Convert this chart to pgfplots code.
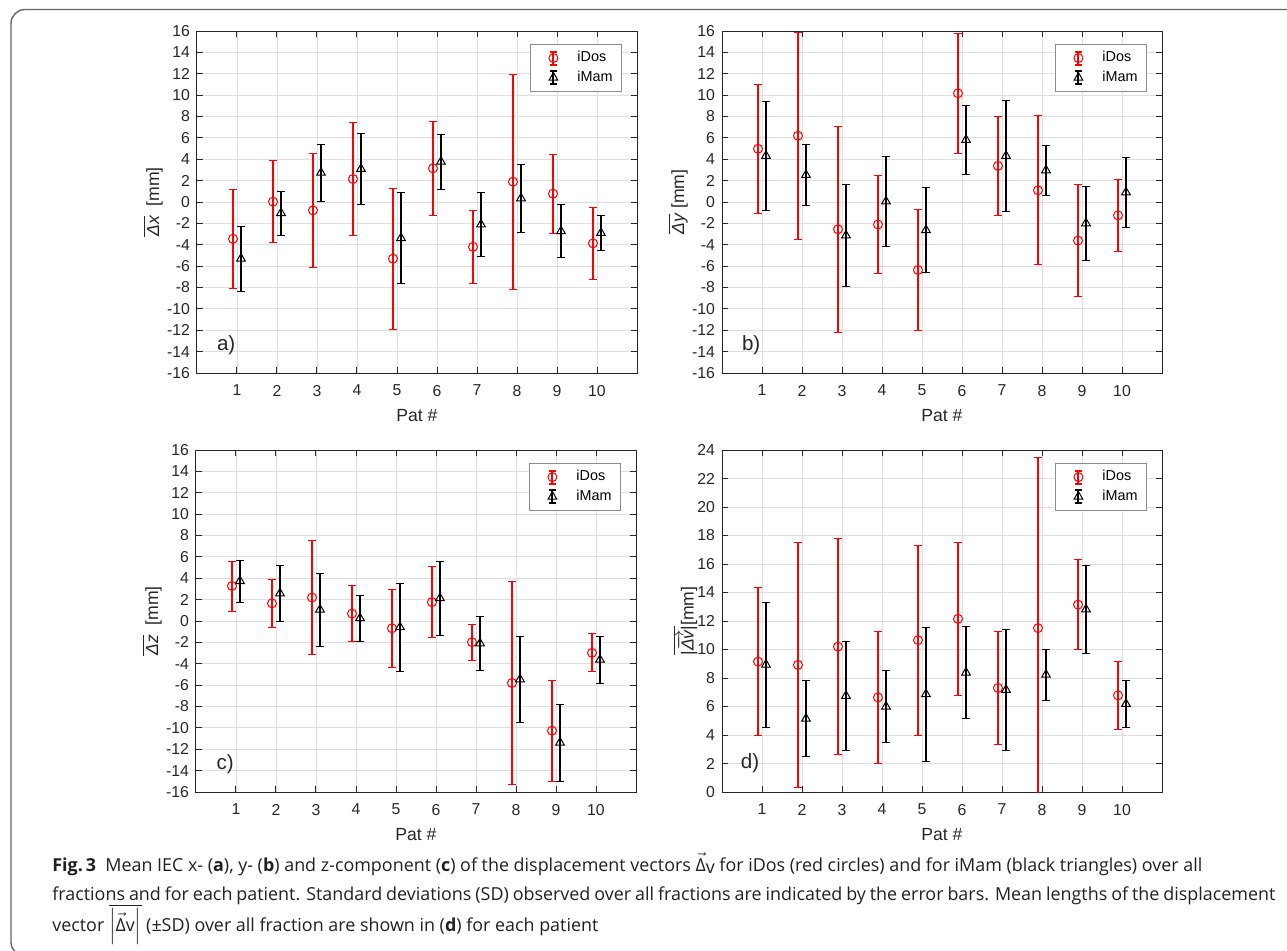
\documentclass[border=0pt]{standalone}
\usepackage{fontspec}
\usepackage{pgfplots}
\pgfplotsset{compat=1.18}
\setmainfont{Liberation Sans}
\newfontfamily\capfont{Open Sans}
\definecolor{axgray}{RGB}{38,38,38}
\definecolor{captext}{RGB}{35,31,32}

\tikzset{plabel/.style={font=\fontsize{10.3}{11}\selectfont, text=axgray}}

\pgfplotsset{
  panel/.style={
    scale only axis, width=220pt, height=171pt, anchor=south west,
    xmin=0, xmax=11, xtick={1,...,10},
    grid=major, major grid style={black!13, line width=0.4pt},
    axis line style={axgray, line width=0.5pt},
    tick style={axgray, line width=0.5pt}, major tick length=3pt,
    tick label style={font=\fontsize{7.9}{9}\selectfont, text=axgray},
    /pgf/number format/assume math mode=true,
    xticklabel style={yshift=-2.5pt},
    xlabel={Pat \#},
    xlabel style={at={(axis description cs:0.5,-0.125)}, anchor=center,
      font=\fontsize{8.8}{10}\selectfont, text=axgray},
    ylabel style={at={(axis description cs:-0.1,0.5)}, anchor=center,
      font=\fontsize{8.8}{10}\selectfont, text=axgray},
    error bars/y dir=both, error bars/y explicit,
    error bars/error bar style={line width=1pt, mark size=1.9pt, solid},
    legend style={at={(0.966,0.962)}, anchor=north east, draw=black!45,
      fill=white, font=\fontsize{7.2}{8}\selectfont, text=black,
      row sep=-1pt, inner xsep=2.5pt, inner ysep=1.5pt},
    legend cell align=left,
    legend image code/.code={%
      \path[draw=none, fill=none] (0pt,0pt) -- (19pt,0pt);
      \draw[##1, mark=none, line width=1pt] (9pt,-3.3pt) -- (9pt,3.3pt)
        (7.2pt,-3.3pt) -- (10.8pt,-3.3pt)
        (7.2pt,3.3pt) -- (10.8pt,3.3pt);
      \draw[##1] plot coordinates {(9pt,0pt)};
    },
  },
  dos/.style={color=red, only marks, mark=o, mark size=2.25pt,
    mark options={solid, line width=0.5pt}},
  mam/.style={color=black, only marks, mark=triangle, mark size=2.5pt,
    mark options={solid, line width=0.5pt}},
}

\begin{document}
\begin{tikzpicture}
\useasboundingbox (0,0) rectangle (643.5pt,475pt);
\draw[black!60, line width=0.7pt, rounded corners=7pt]
  (5.5pt,-3pt) rectangle (670pt,470.25pt);

% a) x component
\begin{axis}[panel, at={(98.5pt,288.5pt)},
  ymin=-16, ymax=16, ytick={-16,-14,...,16},
  ylabel={$\overline{\mbox{\itshape Δx}}$\ \ [mm]}]
\addplot[dos] coordinates {
  (0.9,-3.45) +- (0,4.62) (1.9,0.03) +- (0,3.83) (2.9,-0.78) +- (0,5.33)
  (3.9,2.15) +- (0,5.28) (4.9,-5.30) +- (0,6.59) (5.9,3.15) +- (0,4.39)
  (6.9,-4.20) +- (0,3.41) (7.9,1.90) +- (0,10.07) (8.9,0.78) +- (0,3.68)
  (9.9,-3.87) +- (0,3.34)};
\addlegendentry{iDos}
\addplot[mam] coordinates {
  (1.1,-5.30) +- (0,3.05) (2.1,-1.03) +- (0,2.06) (3.1,2.74) +- (0,2.67)
  (4.1,3.10) +- (0,3.33) (5.1,-3.37) +- (0,4.26) (6.1,3.77) +- (0,2.58)
  (7.1,-2.10) +- (0,3.00) (8.1,0.35) +- (0,3.17) (9.1,-2.73) +- (0,2.47)
  (10.1,-2.90) +- (0,1.63)};
\addlegendentry{iMam}
\node[plabel] at (axis cs:0.73,-13.4) {a)};
\end{axis}

% b) y component
\begin{axis}[panel, at={(361pt,288.5pt)},
  ymin=-16, ymax=16, ytick={-16,-14,...,16},
  ylabel={$\overline{\mbox{\itshape Δy}}$ [mm]}]
\addplot[dos] coordinates {
  (0.9,4.98) +- (0,6.03) (1.9,6.20) +- (0,9.71) (2.9,-2.55) +- (0,9.63)
  (3.9,-2.10) +- (0,4.60) (4.9,-6.36) +- (0,5.67) (5.9,10.17) +- (0,5.60)
  (6.9,3.38) +- (0,4.63) (7.9,1.10) +- (0,6.98) (8.9,-3.61) +- (0,5.24)
  (9.9,-1.25) +- (0,3.34)};
\addlegendentry{iDos}
\addplot[mam] coordinates {
  (1.1,4.32) +- (0,5.12) (2.1,2.53) +- (0,2.84) (3.1,-3.13) +- (0,4.76)
  (4.1,0.06) +- (0,4.21) (5.1,-2.62) +- (0,3.98) (6.1,5.82) +- (0,3.22)
  (7.1,4.32) +- (0,5.21) (8.1,2.97) +- (0,2.33) (9.1,-1.99) +- (0,3.45)
  (10.1,0.91) +- (0,3.29)};
\addlegendentry{iMam}
\node[plabel] at (axis cs:0.73,-13.4) {b)};
\end{axis}

% c) z component
\begin{axis}[panel, at={(98pt,79pt)},
  ymin=-16, ymax=16, ytick={-16,-14,...,16},
  ylabel={$\overline{\mbox{\itshape Δz}}$\ \ [mm]}]
\addplot[dos] coordinates {
  (0.9,3.28) +- (0,2.34) (1.9,1.65) +- (0,2.25) (2.9,2.20) +- (0,5.30)
  (3.9,0.70) +- (0,2.65) (4.9,-0.68) +- (0,3.65) (5.9,1.77) +- (0,3.30)
  (6.9,-1.98) +- (0,1.68) (7.9,-5.80) +- (0,9.50) (8.9,-10.26) +- (0,4.73)
  (9.9,-2.98) +- (0,1.78)};
\addlegendentry{iDos}
\addplot[mam] coordinates {
  (1.1,3.74) +- (0,1.97) (2.1,2.59) +- (0,2.65) (3.1,1.07) +- (0,3.42)
  (4.1,0.27) +- (0,2.14) (5.1,-0.57) +- (0,4.12) (6.1,2.14) +- (0,3.47)
  (7.1,-2.09) +- (0,2.52) (8.1,-5.45) +- (0,4.03) (9.1,-11.38) +- (0,3.59)
  (10.1,-3.62) +- (0,2.19)};
\addlegendentry{iMam}
\node[plabel] at (axis cs:0.73,-13.4) {c)};
\end{axis}

% d) vector length
\begin{axis}[panel, at={(361pt,79pt)},
  ymin=0, ymax=24, ytick={0,2,...,24},
  ylabel style={at={(axis description cs:-0.084,0.5)}},
  ylabel={$\overline{\mbox{|}\overrightarrow{\mbox{\itshape Δv}}\mbox{|}}$[mm]}]
\addplot[dos] coordinates {
  (0.9,9.15) +- (0,5.18) (1.9,8.92) +- (0,8.59) (2.9,10.20) +- (0,7.57)
  (3.9,6.64) +- (0,4.63) (4.9,10.66) +- (0,6.68) (5.9,12.15) +- (0,5.35)
  (6.9,7.30) +- (0,3.96) (7.9,11.50) +- (0,12.00) (8.9,13.15) +- (0,3.16)
  (9.9,6.78) +- (0,2.40)};
\addlegendentry{iDos}
\addplot[mam] coordinates {
  (1.1,8.94) +- (0,4.40) (2.1,5.15) +- (0,2.65) (3.1,6.75) +- (0,3.84)
  (4.1,6.00) +- (0,2.52) (5.1,6.87) +- (0,4.70) (6.1,8.38) +- (0,3.21)
  (7.1,7.17) +- (0,4.24) (8.1,8.23) +- (0,1.79) (9.1,12.82) +- (0,3.08)
  (10.1,6.18) +- (0,1.64)};
\addlegendentry{iMam}
\node[plabel] at (axis cs:0.7,2.0) {d)};
\end{axis}

% caption
\begin{scope}[every node/.style={anchor=base west, inner sep=0pt,
    font=\capfont\fontsize{8.95}{10}\selectfont, text=captext}]
\node at (26pt,39.5pt) {{\bfseries Fig.\,3}\ \ Mean IEC x- ({\bfseries a}), y- ({\bfseries b}) and z-component ({\bfseries c}) of the displacement vectors $\vec{\mbox{Δ}}$\raisebox{-0.3ex}{v} for iDos (red circles) and for iMam (black triangles) over all};
\node at (26pt,25pt) {\makebox[611.5pt][s]{fractions and for each patient. Standard deviations (SD) observed over all fractions are indicated by the error bars. Mean lengths of the displacement}};
\node at (26pt,9.5pt) {vector $\overline{\left|\rule[-1.2ex]{0pt}{3.3ex}\vec{\mbox{Δ}}\mbox{v}\right|}$ (±SD) over all fraction are shown in ({\bfseries d}) for each patient};
\end{scope}
\end{tikzpicture}
\end{document}
